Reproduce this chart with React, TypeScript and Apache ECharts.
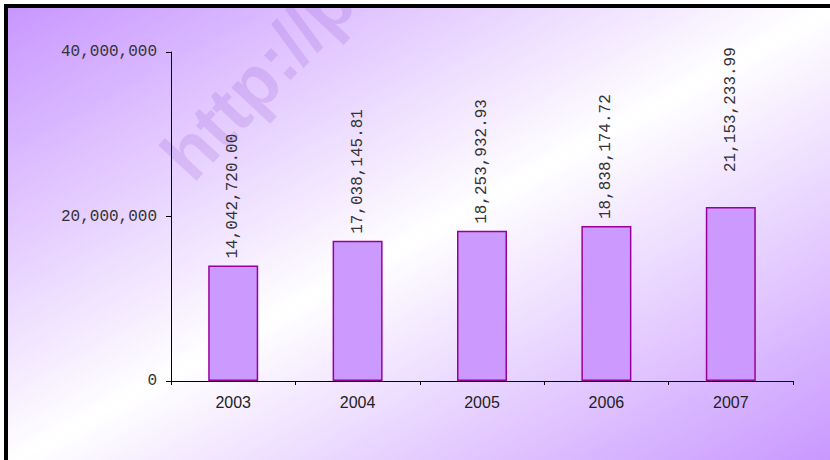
import React, { useEffect, useRef } from "react";
import * as echarts from "echarts";

const years = ["2003", "2004", "2005", "2006", "2007"];
const amounts = [14042720.0, 17038145.81, 18253932.93, 18838174.72, 21153233.99];
const yTicks = { min: 0, max: 40000000, interval: 20000000 };
const watermarkText = "http://p";

const fmtMoney = (v: number) =>
  v.toLocaleString("en-US", { minimumFractionDigits: 2, maximumFractionDigits: 2 });
const fmtInt = (v: number) => Math.round(v).toLocaleString("en-US");

export default function App() {
  const ref = useRef<HTMLDivElement>(null);
  useEffect(() => {
    if (!ref.current) return;
    const chart = echarts.init(ref.current, null, { renderer: "svg" });
    const mono = '"Liberation Mono", "Courier New", monospace';
    const sans = '"Liberation Sans", Arial, sans-serif';
    const barData = amounts.map((v, i) =>
      i === amounts.length - 1 ? { value: v, label: { distance: 35 } } : v
    );
    chart.setOption({
      animation: false,
      backgroundColor: "#ffffff",
      grid: { left: 171, right: 37, top: 52, bottom: 79, outerBoundsMode: "none", containLabel: false },
      xAxis: {
        type: "category",
        data: years,
        boundaryGap: true,
        axisLine: { show: true, lineStyle: { color: "#000", width: 1 } },
        axisTick: { show: true, length: 4, alignWithLabel: false, lineStyle: { color: "#000" } },
        axisLabel: { margin: 13, color: "#222", fontFamily: sans, fontSize: 16 },
        splitLine: { show: false },
      },
      yAxis: {
        type: "value",
        min: yTicks.min,
        max: yTicks.max,
        interval: yTicks.interval,
        axisLine: { show: true, lineStyle: { color: "#000", width: 1 } },
        axisTick: { show: true, length: 5, lineStyle: { color: "#000" } },
        axisLabel: { margin: 14, color: "#333", fontFamily: mono, fontSize: 16, formatter: (v: number) => fmtInt(v) },
        splitLine: { show: false },
      },
      graphic: [
        {
          type: "rect",
          z: -20,
          silent: true,
          shape: { x: 6, y: 6, width: 830, height: 460 },
          style: {
            fill: new echarts.graphic.LinearGradient(0, 0, 1, 1, [
              { offset: 0, color: "#c896ff" },
              { offset: 0.5, color: "#ffffff" },
              { offset: 1, color: "#c896ff" },
            ]),
            stroke: "none",
          },
        },
        {
          type: "text",
          z: -10,
          silent: true,
          x: 201,
          y: 192,
          rotation: 0.82,
          style: {
            text: watermarkText,
            font: 'bold 72px "Liberation Sans", Arial, sans-serif',
            fill: "rgba(140, 80, 200, 0.18)",
            textAlign: "left",
            textVerticalAlign: "bottom",
            align: "left",
            verticalAlign: "bottom",
          },
        },
        {
          type: "rect",
          z: 100,
          silent: true,
          shape: { x: 0, y: 0, width: 830, height: 4 },
          style: { fill: "#ffffff" },
        },
        {
          type: "rect",
          z: 100,
          silent: true,
          shape: { x: 0, y: 0, width: 4, height: 460 },
          style: { fill: "#ffffff" },
        },
        {
          type: "rect",
          z: 101,
          silent: true,
          shape: { x: 6, y: 6, width: 900, height: 600 },
          style: { fill: "none", stroke: "#000", lineWidth: 4 },
        },
      ],
      series: [
        {
          type: "bar",
          data: barData,
          barWidth: 50,
          itemStyle: { color: "#cc99ff", borderColor: "#990099", borderWidth: 1.5 },
          label: {
            show: true,
            position: "top",
            rotate: 90,
            align: "left",
            verticalAlign: "middle",
            distance: 7,
            color: "#333",
            fontFamily: mono,
            fontSize: 16,
            formatter: (p: any) => fmtMoney(p.value),
          },
        },
      ],
    });
    return () => chart.dispose();
  }, []);
  return (
    <div
      ref={ref}
      style={{ position: "fixed", left: 0, top: 0, width: 830, height: 460 }}
    />
  );
}
